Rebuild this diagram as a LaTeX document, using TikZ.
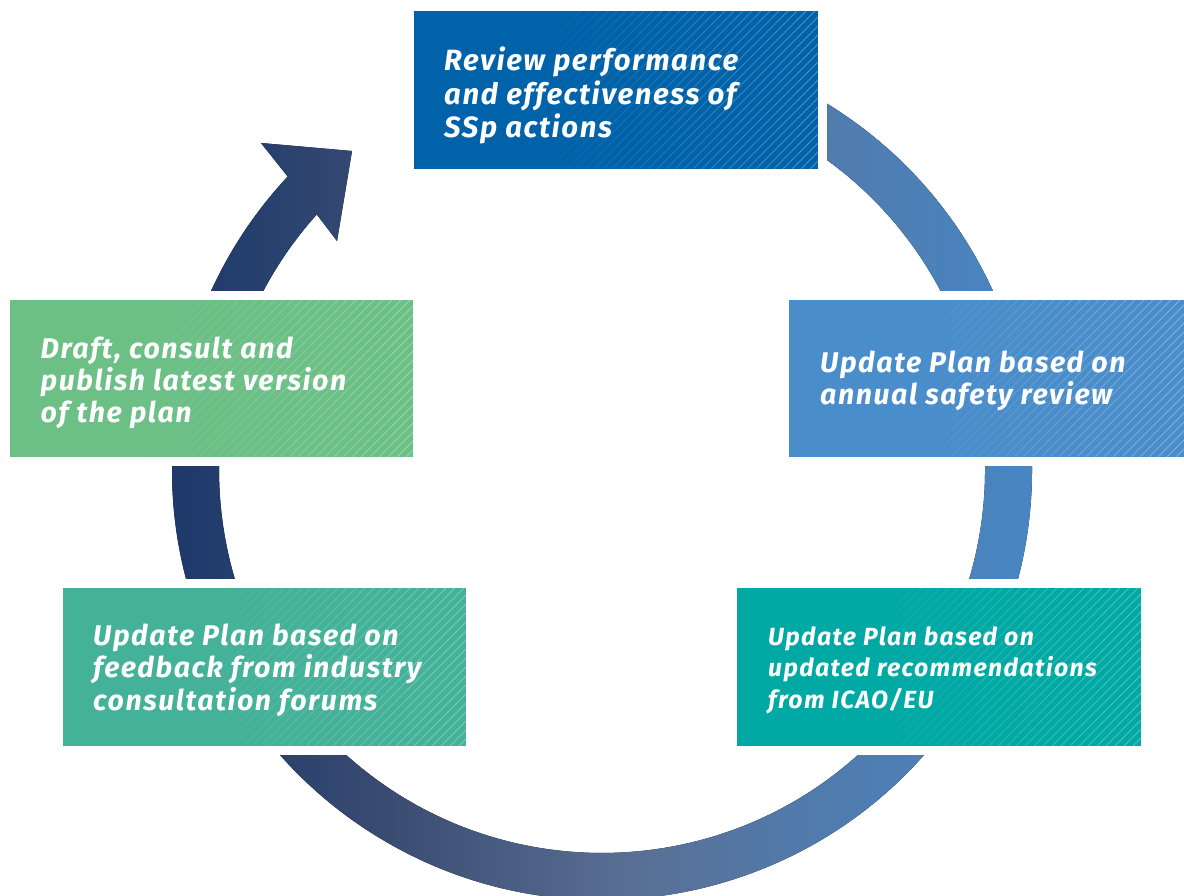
\documentclass[tikz,border=0pt]{standalone}
\usepackage{fontspec}
\newfontfamily\boxfont{Fira Sans}[LetterSpace=5.5]
\usetikzlibrary{calc}

\definecolor{reviewblue}{HTML}{0062A9}
\definecolor{annualblue}{HTML}{4A8DCB}
\definecolor{draftgreen}{HTML}{6CC086}
\definecolor{forumteal}{HTML}{44B199}
\definecolor{icaoteal}{HTML}{00A9A4}
\definecolor{ringdark}{HTML}{1E386A}
\definecolor{ringnavy}{HTML}{243E6D}
\definecolor{ringslate}{HTML}{3A4C72}
\definecolor{ringmid}{HTML}{5A6F94}
\definecolor{ringsteel}{HTML}{5279A8}
\definecolor{ringlight}{HTML}{4589CA}

% left-to-right colour run of the ring (25bp = left edge, 75bp = right edge)
\pgfdeclarehorizontalshading{ringfade}{100bp}{%
  color(0bp)=(ringdark); color(25bp)=(ringdark); color(29bp)=(ringnavy);
  color(37bp)=(ringslate); color(50bp)=(ringmid); color(58bp)=(ringsteel);
  color(75bp)=(ringlight); color(100bp)=(ringlight)}

% diagonal white hatching that fades in from the left part of a box
% arguments: left, top, right, bottom (page units, y pointing down)
\newcommand\hatchbox[4]{%
  \foreach \s in {0,...,19}{%
    \pgfmathsetmacro\xa{#1+(#3-#1)*\s/20}%
    \pgfmathsetmacro\xb{#1+(#3-#1)*(\s+1)/20}%
    \pgfmathsetmacro\op{max(0,((\s+0.5)/20-0.3)/0.7)*0.32}%
    \ifdim\op pt>0pt
    \begin{scope}
      \clip (\xa,#2) rectangle (\xb,#4);
      \draw[hatchline, opacity=\op]
        \foreach \k in {0,9,...,600} {(#1-180+\k,#4) -- (#1-180+\k+#4-#2,#2)};
    \end{scope}
    \fi
  }%
}

\begin{document}
\begin{tikzpicture}[x=1pt, y=-1pt,
  stepbox/.style={rectangle, anchor=north west, inner sep=0pt,
    preaction={draw=white, line width=18pt}},
  hatchline/.style={draw=white, line width=0.9pt},
  boxtext/.style={anchor=base west, inner sep=0pt, text=white,
    font=\boxfont\bfseries\itshape\fontsize{28.5}{31.5}\selectfont},
  toptext/.style={boxtext,
    font=\boxfont\bfseries\itshape\fontsize{29.3}{31.5}\selectfont},
  smalltext/.style={boxtext,
    font=\boxfont\bfseries\itshape\fontsize{24.8}{31.5}\selectfont},
  ringshade/.style={shading=ringfade}
]
\useasboundingbox (0,0) rectangle (1184,896);

% the cycle ring, ending in an arrow head that points at the review step
\coordinate (hub) at (602,470);
\fill[ringshade]
  (826,103) arc[start angle=-58.6, end angle=223.04, radius=430]
  -- (261,143) -- (352,151) -- (337,241) -- (316.8,214.4)
  arc[start angle=221.86, end angle=-54.1, radius=383] -- cycle;

% step boxes
\node[stepbox, fill=reviewblue, minimum width=404pt, minimum height=158pt] (reviewbox) at (414,11) {};
\node[stepbox, fill=annualblue, minimum width=395pt, minimum height=157pt] (annualbox) at (789,300) {};
\node[stepbox, fill=draftgreen, minimum width=403pt, minimum height=157pt] (draftbox) at (10,300) {};
\node[stepbox, fill=forumteal, minimum width=403pt, minimum height=158pt] (forumbox) at (63,588) {};
\node[stepbox, fill=icaoteal, minimum width=404pt, minimum height=158pt] (icaobox) at (737,588) {};

\hatchbox{414}{11}{818}{169}
\hatchbox{789}{300}{1184}{457}
\hatchbox{10}{300}{413}{457}
\hatchbox{63}{588}{466}{746}
\hatchbox{737}{588}{1141}{746}

% step labels
\node[toptext] (review) at (444,71) {\begin{tabular}[t]{@{}l@{}}Review performance\\and effectiveness of\\SSp actions\end{tabular}};
\node[boxtext] (annual) at (820,372) {\begin{tabular}[t]{@{}l@{}}Update Plan based on\\annual safety review\end{tabular}};
\node[boxtext] (draft) at (40.5,358) {\begin{tabular}[t]{@{}l@{}}Draft, consult and\\publish latest version\\of the plan\end{tabular}};
\node[boxtext] (forums) at (93,645) {\begin{tabular}[t]{@{}l@{}}Update Plan based on\\feedback from industry\\consultation forums\end{tabular}};
\node[smalltext] (icao) at (768,645) {\begin{tabular}[t]{@{}l@{}}Update Plan based on\\updated recommendations\\from ICAO/EU\end{tabular}};
\end{tikzpicture}
\end{document}
